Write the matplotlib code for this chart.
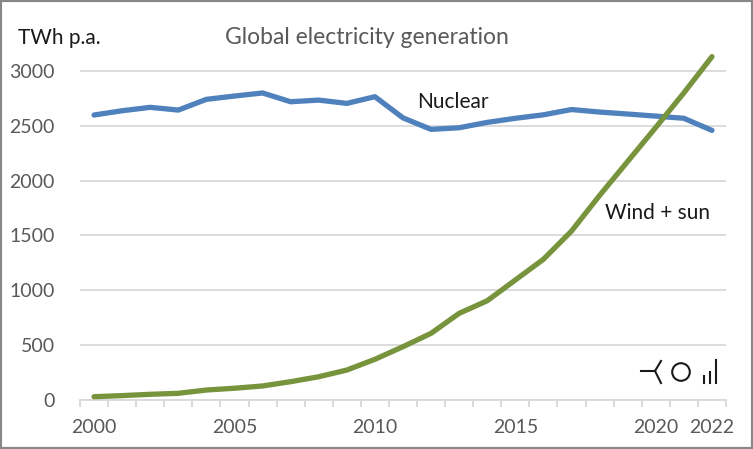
import matplotlib
matplotlib.use('Agg')
import matplotlib.pyplot as plt
from matplotlib.lines import Line2D
from matplotlib.patches import Circle, Rectangle

plt.rcParams['font.family'] = ['Lato', 'DejaVu Sans']

# Data (TWh per year)
years = list(range(2000, 2023))
nuclear = [2598, 2637, 2668, 2643, 2741, 2771, 2799, 2719, 2734, 2704, 2765,
           2572, 2467, 2482, 2531, 2568, 2600, 2648, 2625, 2607, 2588, 2568, 2458]
wind_sun = [30, 40, 52, 61, 91, 107, 128, 167, 212, 273, 371,
            486, 608, 790, 905, 1094, 1283, 1540, 1865, 2175, 2485, 2800, 3130]
label_years = [2000, 2005, 2010, 2015, 2020, 2022]
y_ticks = [0, 500, 1000, 1500, 2000, 2500, 3000]

W, H = 753, 449
fig = plt.figure(figsize=(W / 100, H / 100), dpi=100)
ax = fig.add_axes([80 / W, (H - 400) / H, (726 - 80) / W, (400 - 43.5) / H])

x = list(range(len(years)))
ax.plot(x, nuclear, color='#4f81bd', lw=3.8, solid_capstyle='round', zorder=3)
ax.plot(x, wind_sun, color='#77933c', lw=3.8, solid_capstyle='round', zorder=4)

ax.set_xlim(-0.5, len(years) - 0.5)
ax.set_ylim(0, 3250)

# gridlines
ax.set_yticks(y_ticks)
ax.yaxis.grid(True, color='#d9d9d9', lw=1.3)
ax.set_axisbelow(True)
ax.tick_params(axis='y', length=0, labelsize=14, labelcolor='#595959', pad=18)

# category axis: ticks between categories, labels on selected years
ax.set_xticks([i - 0.5 for i in range(len(years) + 1)], minor=True)
ax.set_xticks([years.index(yr) for yr in label_years])
ax.set_xticklabels([str(yr) for yr in label_years])
ax.tick_params(axis='x', which='major', length=0, labelsize=14, labelcolor='#595959', pad=14)
ax.tick_params(axis='x', which='minor', length=5, width=1.3, color='#d9d9d9')

for s in ['top', 'right', 'left']:
    ax.spines[s].set_visible(False)
ax.spines['bottom'].set_color('#d9d9d9')
ax.spines['bottom'].set_linewidth(1.3)

# labels
ax.text(11.5, 2716, 'Nuclear', fontsize=15, color='#1a1a1a', va='center', ha='left')
ax.text(18.2, 1705, 'Wind + sun', fontsize=15, color='#1a1a1a', va='center', ha='left')
fig.text(18 / W, 1 - 38 / H, 'TWh p.a.', fontsize=15, color='#1a1a1a', va='center', ha='left')
fig.text(367 / W, 1 - 38 / H, 'Global electricity generation', fontsize=16.5,
         color='#595959', va='center', ha='center')

# small logo in the bottom right corner
def px(xp, yp):
    return (xp / W, 1 - yp / H)

logo_segments = [
    [(641, 371), (655, 371)],
    [(655, 371), (661, 361)],
    [(655, 371), (661, 383)],
    [(704, 376), (704, 383)],
    [(710, 372), (710, 383)],
    [(715.5, 360), (715.5, 383)],
]
for seg in logo_segments:
    (x0, y0), (x1, y1) = px(*seg[0]), px(*seg[1])
    fig.add_artist(Line2D([x0, x1], [y0, y1], color='#1a1a1a', lw=1.5))
fig.add_artist(Circle((681, H - 372), 8.8, transform=None, fill=False,
                      ec='#1a1a1a', lw=1.5))

# outer border
fig.add_artist(Rectangle((0, 0), 1, 1, transform=fig.transFigure, fill=False,
                         ec='#878787', lw=3))

fig.savefig('out.png', dpi=100)
